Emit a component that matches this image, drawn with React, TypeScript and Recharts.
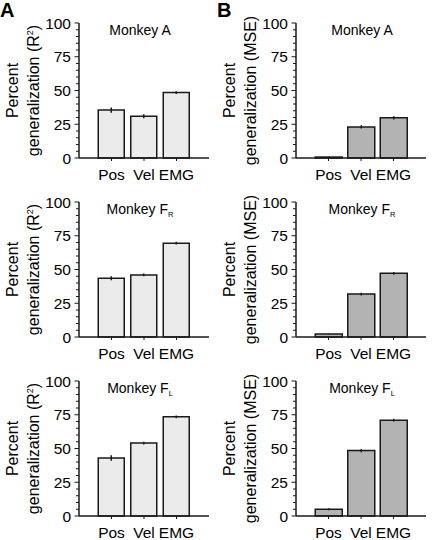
import { BarChart, Bar, XAxis, YAxis, ErrorBar } from 'recharts';

const CATEGORIES = ['Pos', 'Vel', 'EMG'];
const Y_TICKS = [0, 5, 10, 15, 20, 25, 30, 35, 40, 45, 50, 55, 60, 65, 70, 75, 80, 85, 90, 95, 100];

// column A: R^2 generalization
const R2_A = [35.5, 31, 48.5];
const R2_A_ERR = [2, 1.5, 1];
const R2_FR = [43.5, 46, 69.5];
const R2_FR_ERR = [1.5, 1, 1];
const R2_FL = [43, 54, 73.5];
const R2_FL_ERR = [2, 1, 1];

// column B: MSE generalization
const MSE_A = [0.7, 23, 29.8];
const MSE_A_ERR = [0.3, 1.2, 1.2];
const MSE_FR = [2.2, 31.8, 47.2];
const MSE_FR_ERR = [0.3, 1, 1];
const MSE_FL = [5, 48.5, 71];
const MSE_FL_ERR = [0.8, 1.2, 1];

const MONKEYS = [
  { name: 'A', sub: '' },
  { name: 'F', sub: 'R' },
  { name: 'F', sub: 'L' },
];

const FONT = '"Liberation Sans", Arial, Helvetica, sans-serif';
const INK = '#1a1a1a';

const toRows = (vals: number[], errs: number[]) =>
  vals.map((v, i) => ({ x: i + 1, value: v, err: errs[i] }));

function YTick({ x, y, payload }: any) {
  const major = payload.value % 25 === 0;
  return (
    <g>
      <line x1={x - (major ? 4.5 : 3)} x2={x} y1={y} y2={y} stroke={INK} strokeWidth={1} />
      {major && (
        <text x={x - 8} y={y} dy="0.36em" textAnchor="end" fontSize={15.5} fontFamily={FONT} fill="#000">
          {payload.value}
        </text>
      )}
    </g>
  );
}

function PanelLabel({ viewBox, metric, monkey, titleShift }: any) {
  const vb = viewBox || { x: 0, y: 22, width: 79, height: 135 };
  const cy = vb.y + vb.height / 2;
  const left = vb.x;
  const plotLeft = vb.x + vb.width;
  return (
    <g fontFamily={FONT} fill="#000">
      <text transform={`translate(${left + 18}, ${cy}) rotate(-90)`} textAnchor="middle" fontSize={16}>
        Percent
      </text>
      <text transform={`translate(${left + 38.5}, ${cy}) rotate(-90)`} textAnchor="middle" fontSize={16}>
        {metric === 'R2' ? (
          <>
            generalization (R<tspan fontSize={9} dy={-6}>2</tspan>
            <tspan dy={6}>)</tspan>
          </>
        ) : (
          'generalization (MSE)'
        )}
      </text>
      <text x={plotLeft + 65 + titleShift} y={vb.y + 12} textAnchor="middle" fontSize={14}>
        Monkey {monkey.name}
        {monkey.sub && (
          <tspan fontSize={7.5} dy={3}>
            {monkey.sub}
          </tspan>
        )}
      </text>
    </g>
  );
}

function Panel({ data, fill, metric, monkey, xMax, barSize, titleShift }: any) {
  return (
    <BarChart width={217} height={195} data={data} margin={{ top: 22, right: 8, bottom: 0, left: 0 }}>
      <XAxis
        dataKey="x"
        type="number"
        domain={[0, xMax]}
        ticks={[1, 2, 3]}
        interval={0}
        tickFormatter={(v: number) => CATEGORIES[v - 1]}
        height={38}
        tickSize={3}
        tickMargin={8}
        axisLine={{ stroke: INK, strokeWidth: 1.5 }}
        tickLine={{ stroke: INK }}
        tick={{ fontSize: 15.5, fontFamily: FONT, fill: '#000' }}
        allowDecimals={false}
      />
      <YAxis
        type="number"
        domain={[0, 100]}
        ticks={Y_TICKS}
        interval={0}
        width={79}
        tickSize={0}
        tickMargin={0}
        tickLine={false}
        axisLine={{ stroke: INK, strokeWidth: 1.5 }}
        tick={<YTick />}
        label={<PanelLabel metric={metric} monkey={monkey} titleShift={titleShift} />}
      />
      <Bar dataKey="value" fill={fill} stroke={INK} strokeWidth={1.5} barSize={barSize} isAnimationActive={false}>
        <ErrorBar dataKey="err" direction="y" width={0} stroke={INK} strokeWidth={1.5} />
      </Bar>
    </BarChart>
  );
}

const COL_A = [toRows(R2_A, R2_A_ERR), toRows(R2_FR, R2_FR_ERR), toRows(R2_FL, R2_FL_ERR)];
const COL_B = [toRows(MSE_A, MSE_A_ERR), toRows(MSE_FR, MSE_FR_ERR), toRows(MSE_FL, MSE_FL_ERR)];
const ROW_TOPS = [1, 180, 359];

export default function App() {
  return (
    <div style={{ position: 'fixed', left: 0, top: 0, width: 434, height: 540, background: '#fff', overflow: 'hidden' }}>
      {ROW_TOPS.map((top, i) => (
        <div key={`a-${i}`} style={{ position: 'absolute', left: 0, top }}>
          <Panel data={COL_A[i]} fill="#ebebeb" metric="R2" monkey={MONKEYS[i]} xMax={4} barSize={26} titleShift={-4} />
        </div>
      ))}
      {ROW_TOPS.map((top, i) => (
        <div key={`b-${i}`} style={{ position: 'absolute', left: 217, top }}>
          <Panel data={COL_B[i]} fill="#b3b3b3" metric="MSE" monkey={MONKEYS[i]} xMax={3.85} barSize={27} titleShift={1} />
        </div>
      ))}
      <svg width={434} height={540} style={{ position: 'absolute', left: 0, top: 0, pointerEvents: 'none' }}>
        <text x={0} y={17} fontSize={20} fontWeight="bold" fontFamily={FONT}>A</text>
        <text x={217} y={17} fontSize={20} fontWeight="bold" fontFamily={FONT}>B</text>
      </svg>
    </div>
  );
}
